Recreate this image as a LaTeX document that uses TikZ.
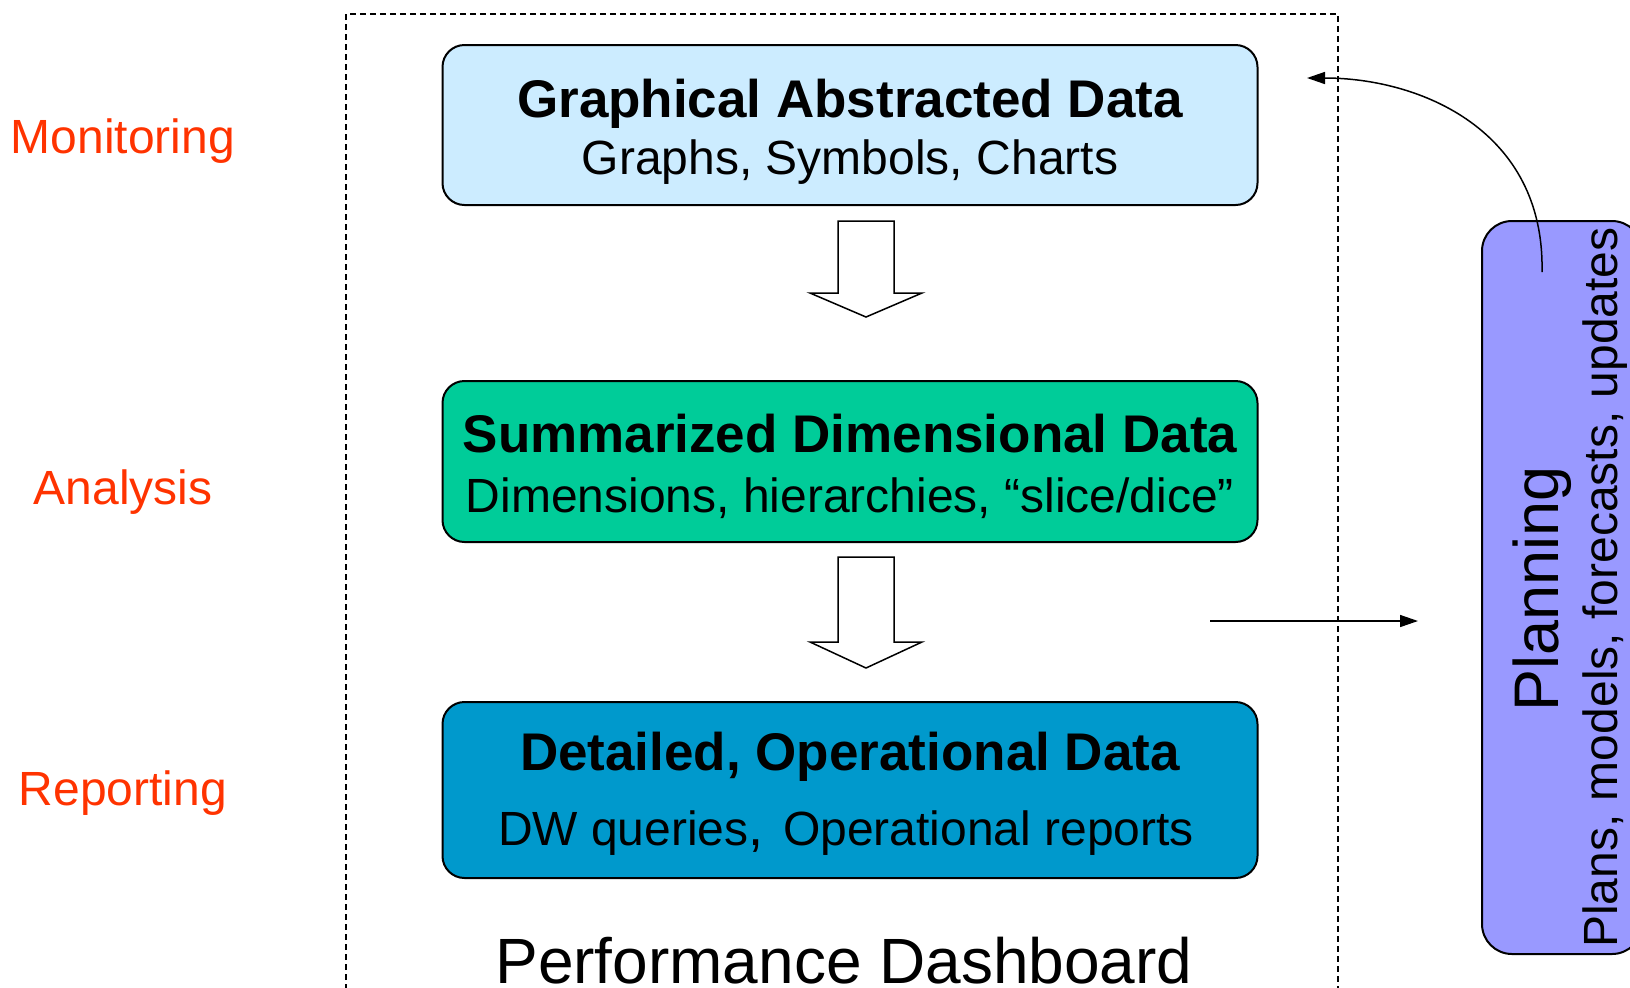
\documentclass[tikz,border=0pt]{standalone}
\usepackage{fontspec}
\setmainfont{Liberation Sans}
\usetikzlibrary{arrows.meta}
\definecolor{boxA}{HTML}{CCECFF}
\definecolor{boxB}{HTML}{00CC99}
\definecolor{boxC}{HTML}{0099CC}
\definecolor{planc}{HTML}{9999FF}
\definecolor{lbl}{HTML}{FF3300}
\tikzset{
  databox/.style={draw=black, line width=1pt, rounded corners=11pt, minimum width=407.5pt, inner sep=0pt},
  titletext/.style={anchor=base, inner sep=0pt, font=\fontsize{26.5pt}{30pt}\selectfont\bfseries},
  subtext/.style={anchor=base, inner sep=0pt, font=\fontsize{24pt}{28pt}\selectfont},
  sidelabel/.style={anchor=base, inner sep=0pt, text=lbl, font=\fontsize{24pt}{28pt}\selectfont},
  blockarrow/.style={draw=black, line width=0.75pt, fill=white},
  thinarrow/.style={draw=black, line width=0.75pt, -{Triangle[length=9pt,width=6pt]}},
}
\begin{document}
\begin{tikzpicture}[x=0.5pt,y=-0.5pt]
\useasboundingbox (0,0) rectangle (1630,987);
% dashed frame
\draw[line width=0.9pt, dash pattern=on 3pt off 2pt] (346,1010) -- (346,14) -- (1338,14) -- (1338,1010);
% data boxes
\node[databox, fill=boxA, minimum height=80pt] (graph) at (850,125) {};
\node[databox, fill=boxB, minimum height=80.5pt] (summ) at (850,461.5) {};
\node[databox, fill=boxC, minimum height=88pt] (detail) at (850,790) {};
% texts in boxes
\node[titletext] (t1) at (850,117) {Graphical Abstracted Data};
\node[subtext] (s1) at (850,174) {Graphs, Symbols, Charts};
\node[titletext] (t2) at (850,452) {Summarized Dimensional Data};
\node[subtext] (s2) at (850,512) {Dimensions, hierarchies, “slice/dice”};
\node[titletext] (t3) at (850,770) {Detailed, Operational Data};
\node[subtext] (s3) at (846,845) {DW queries{\fontsize{27pt}{28pt}\selectfont,}\hspace{3pt} Operational reports};
% dashboard caption
\node[anchor=base, inner sep=0pt, font=\fontsize{32pt}{36pt}\selectfont] (dash) at (844,983) {Performance Dashboard};
% side labels
\node[sidelabel] (mon) at (123,153) {Monitoring};
\node[sidelabel] (ana) at (123,504) {Analysis};
\node[sidelabel] (rep) at (123,805) {Reporting};
% block arrows
\draw[blockarrow] (838,221) -- (894,221) -- (894,293) -- (922,293) -- (866,317) -- (810,293) -- (838,293) -- cycle;
\draw[blockarrow] (838,557) -- (894,557) -- (894,642) -- (922,642) -- (866,668) -- (810,642) -- (838,642) -- cycle;
% planning box
\node[draw=black, line width=1pt, fill=planc, rounded corners=15pt, minimum width=80pt, minimum height=366.5pt, inner sep=0pt] (plan) at (1562,587.5) {};
\node[anchor=base, rotate=90, inner sep=0pt, font=\fontsize{31.5pt}{34pt}\selectfont] (plant) at (1558,589) {Planning};
\node[anchor=base, rotate=90, inner sep=0pt, font=\fontsize{24pt}{28pt}\selectfont] (plans) at (1617,587.5) {Plans, models, forecasts, updates};
% connectors
\coordinate (cstart) at (1542,272);
\coordinate (cend) at (1307,78);
\draw[thinarrow] (cstart) .. controls (1545,130) and (1420,78) .. (cend);
\coordinate (hstart) at (1210,621);
\coordinate (hend) at (1418,621);
\draw[thinarrow] (hstart) -- (hend);
\end{tikzpicture}
\end{document}
